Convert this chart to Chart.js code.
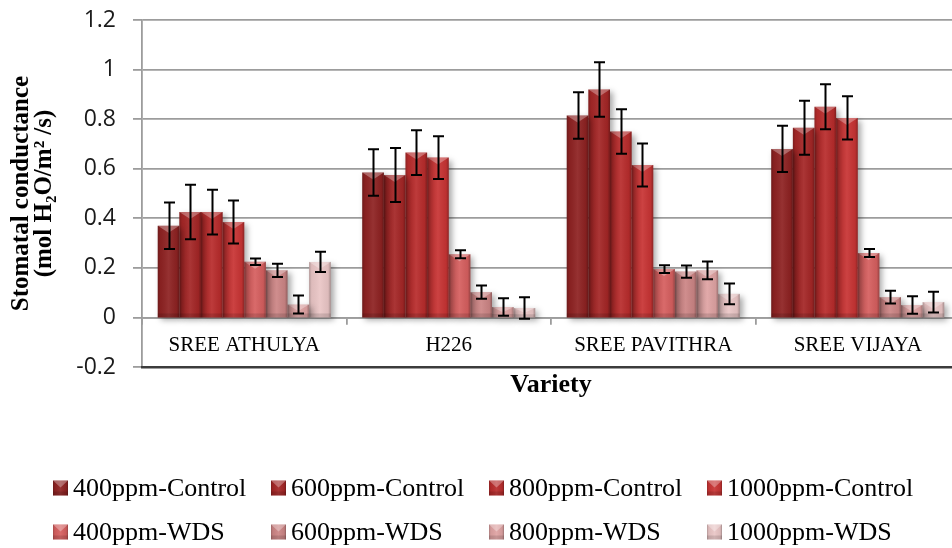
<!DOCTYPE html>
<html>
<head>
<meta charset="utf-8">
<script src="https://cdn.jsdelivr.net/npm/chart.js@4.4.1/dist/chart.umd.min.js"></script>
<style>
  html, body { margin: 0; padding: 0; background: #fff; overflow: hidden; }
  #wrap { width: 952px; height: 548px; overflow: hidden; position: relative; }
  canvas { display: block; }
</style>
</head>
<body>
<div id="wrap"><canvas id="chart" width="960" height="548"></canvas></div>
<script>
// Stomatal conductance by variety, CO2 level and water regime
const varieties = ['SREE ATHULYA', 'H226', 'SREE PAVITHRA', 'SREE VIJAYA'];

const seriesNames = [
  '400ppm-Control', '600ppm-Control', '800ppm-Control', '1000ppm-Control',
  '400ppm-WDS', '600ppm-WDS', '800ppm-WDS', '1000ppm-WDS'
];

const control400  = [0.370, 0.585, 0.815, 0.680];
const control600  = [0.425, 0.575, 0.920, 0.765];
const control800  = [0.425, 0.665, 0.750, 0.850];
const control1000 = [0.385, 0.645, 0.615, 0.805];
const wds400  = [0.225, 0.255, 0.195, 0.260];
const wds600  = [0.190, 0.102, 0.185, 0.082];
const wds800  = [0.052, 0.042, 0.190, 0.050];
const wds1000 = [0.224, 0.038, 0.095, 0.062];

// standard errors
const errControl400  = [0.094, 0.094, 0.094, 0.093];
const errControl600  = [0.110, 0.109, 0.110, 0.109];
const errControl800  = [0.090, 0.090, 0.090, 0.091];
const errControl1000 = [0.087, 0.086, 0.087, 0.087];
const errWds400  = [0.013, 0.016, 0.016, 0.016];
const errWds600  = [0.027, 0.027, 0.025, 0.026];
const errWds800  = [0.036, 0.035, 0.036, 0.035];
const errWds1000 = [0.041, 0.043, 0.042, 0.042];

const yTickMin = -0.2, yTickMax = 1.2, yTickStep = 0.2;

const seriesValues = [control400, control600, control800, control1000, wds400, wds600, wds800, wds1000];
const seriesErrors = [errControl400, errControl600, errControl800, errControl1000, errWds400, errWds600, errWds800, errWds1000];
const seriesColors = ['#8e2222', '#a42626', '#b82c2c', '#c83434', '#d65f5f', '#cc8585', '#dfa3a3', '#eac6c6'];

const datasets = seriesNames.map((name, i) => ({
  label: name,
  data: seriesValues[i],
  errors: seriesErrors[i],
  backgroundColor: seriesColors[i],
  borderWidth: 0
}));

// shaded, bevelled face drawn over a flat rectangle
function bevelFace(ctx, x0, x1, top, bottom) {
  const w = x1 - x0, h = bottom - top;
  if (h <= 0.5) return;
  const g = ctx.createLinearGradient(x0, 0, x1, 0);
  g.addColorStop(0, 'rgba(0,0,0,0.24)');
  g.addColorStop(0.12, 'rgba(0,0,0,0.05)');
  g.addColorStop(0.5, 'rgba(255,255,255,0.07)');
  g.addColorStop(0.88, 'rgba(0,0,0,0.06)');
  g.addColorStop(1, 'rgba(0,0,0,0.30)');
  ctx.fillStyle = g;
  ctx.fillRect(x0, top, w, h);
  const b = Math.min(7, h / 2);
  ctx.fillStyle = 'rgba(255,255,255,0.30)';
  ctx.beginPath();
  ctx.moveTo(x0, top); ctx.lineTo(x1, top); ctx.lineTo(x0 + w / 2, top + b);
  ctx.closePath(); ctx.fill();
  const bb = Math.min(4, h / 3);
  ctx.fillStyle = 'rgba(0,0,0,0.12)';
  ctx.fillRect(x0, bottom - bb, w, bb);
}

const barShading = {
  id: 'barShading',
  beforeDatasetDraw(chart) {
    const ctx = chart.ctx;
    ctx.save();
    ctx.shadowColor = 'rgba(0,0,0,0.35)';
    ctx.shadowBlur = 6;
    ctx.shadowOffsetX = 3;
    ctx.shadowOffsetY = 3;
  },
  afterDatasetDraw(chart, args) {
    const ctx = chart.ctx;
    ctx.restore();
    ctx.save();
    args.meta.data.forEach(el => {
      const p = el.getProps(['x', 'y', 'base', 'width'], true);
      bevelFace(ctx, p.x - p.width / 2, p.x + p.width / 2, Math.min(p.y, p.base), Math.max(p.y, p.base));
    });
    ctx.restore();
  }
};

const errorBars = {
  id: 'errorBars',
  afterDatasetsDraw(chart) {
    const ctx = chart.ctx;
    const yScale = chart.scales.y;
    ctx.save();
    ctx.strokeStyle = '#000';
    ctx.lineWidth = 2;
    chart.data.datasets.forEach((ds, di) => {
      const meta = chart.getDatasetMeta(di);
      meta.data.forEach((el, i) => {
        const v = ds.data[i], e = ds.errors[i];
        const x = Math.round(el.x) + 0.5;
        const yt = yScale.getPixelForValue(v + e);
        const yb = yScale.getPixelForValue(v - e);
        const cap = 5.5;
        ctx.beginPath();
        ctx.moveTo(x, yt); ctx.lineTo(x, yb);
        ctx.moveTo(x - cap, yt); ctx.lineTo(x + cap, yt);
        ctx.moveTo(x - cap, yb); ctx.lineTo(x + cap, yb);
        ctx.stroke();
      });
    });
    ctx.restore();
  }
};

// four-column legend laid out as a grid under the axis title
const gridLegend = {
  id: 'gridLegend',
  afterDraw(chart, args, opts) {
    const ctx = chart.ctx;
    ctx.save();
    ctx.font = opts.font;
    ctx.textBaseline = 'middle';
    ctx.textAlign = 'left';
    chart.data.datasets.forEach((ds, i) => {
      const col = i % opts.columns, row = Math.floor(i / opts.columns);
      const x = opts.left + col * opts.colWidth;
      const y = opts.top + row * opts.rowHeight;
      const s = opts.box;
      ctx.fillStyle = ds.backgroundColor;
      ctx.fillRect(x, y - s / 2, s, s);
      bevelFace(ctx, x, x + s, y - s / 2, y + s / 2);
      ctx.fillStyle = '#000';
      ctx.fillText(ds.label, x + s + opts.gap, y + 1);
    });
    ctx.restore();
  }
};

const serif = "'Liberation Serif', 'Times New Roman', serif";

new Chart(document.getElementById('chart'), {
  type: 'bar',
  data: { labels: varieties, datasets },
  plugins: [barShading, errorBars, gridLegend],
  options: {
    responsive: false,
    animation: false,
    devicePixelRatio: 1,
    layout: { padding: { top: 20, right: 0, bottom: 147, left: 0 } },
    datasets: { bar: { categoryPercentage: 0.846, barPercentage: 1 } },
    plugins: {
      legend: { display: false },
      tooltip: { enabled: false },
      gridLegend: {
        font: '26px ' + serif,
        columns: 4, left: 53, colWidth: 218, top: 488, rowHeight: 44, box: 15, gap: 5
      }
    },
    scales: {
      y: {
        min: yTickMin, max: yTickMax,
        afterFit(scale) {
          scale.width = 142;
          scale.paddingTop = 0;
          scale.paddingBottom = 0;
        },
        ticks: {
          stepSize: yTickStep,
          padding: 17,
          color: '#1a1a1a',
          font: { family: "'Open Sans', sans-serif", size: 23 },
          callback: v => String(Number(v.toFixed(1)))
        },
        grid: { color: '#9c9c9c', lineWidth: 1.8, tickLength: 9 },
        border: { color: '#9c9c9c', width: 1.8 },
        title: {
          display: true,
          text: ['Stomatal conductance', '(mol H\u2082O/m\u00B2 /s)'],
          color: '#000',
          font: { family: serif, size: 25, weight: 'bold', lineHeight: 0.93 },
          padding: { top: 10, bottom: 0 }
        }
      },
      x: {
        position: 'bottom',
        afterFit(scale) { scale.height = 34; },
        ticks: { display: false },
        grid: { display: false },
        border: { display: true, color: '#3c3c3c', width: 2.4 },
        title: {
          display: true,
          text: 'Variety',
          color: '#000',
          font: { family: serif, size: 26, weight: 'bold', lineHeight: 1.2 },
          padding: { top: 0, bottom: 0 }
        }
      },
      xl: {
        type: 'category',
        labels: varieties,
        position: { y: 0 },
        offset: true,
        ticks: { padding: 9, color: '#000', font: { family: serif, size: 21 }, maxRotation: 0 },
        grid: { offset: true, drawOnChartArea: false, drawTicks: true, tickLength: 6, color: '#9c9c9c', lineWidth: 1.8 },
        border: { display: true, color: '#9c9c9c', width: 1.8 }
      }
    }
  }
});
</script>
</body>
</html>
